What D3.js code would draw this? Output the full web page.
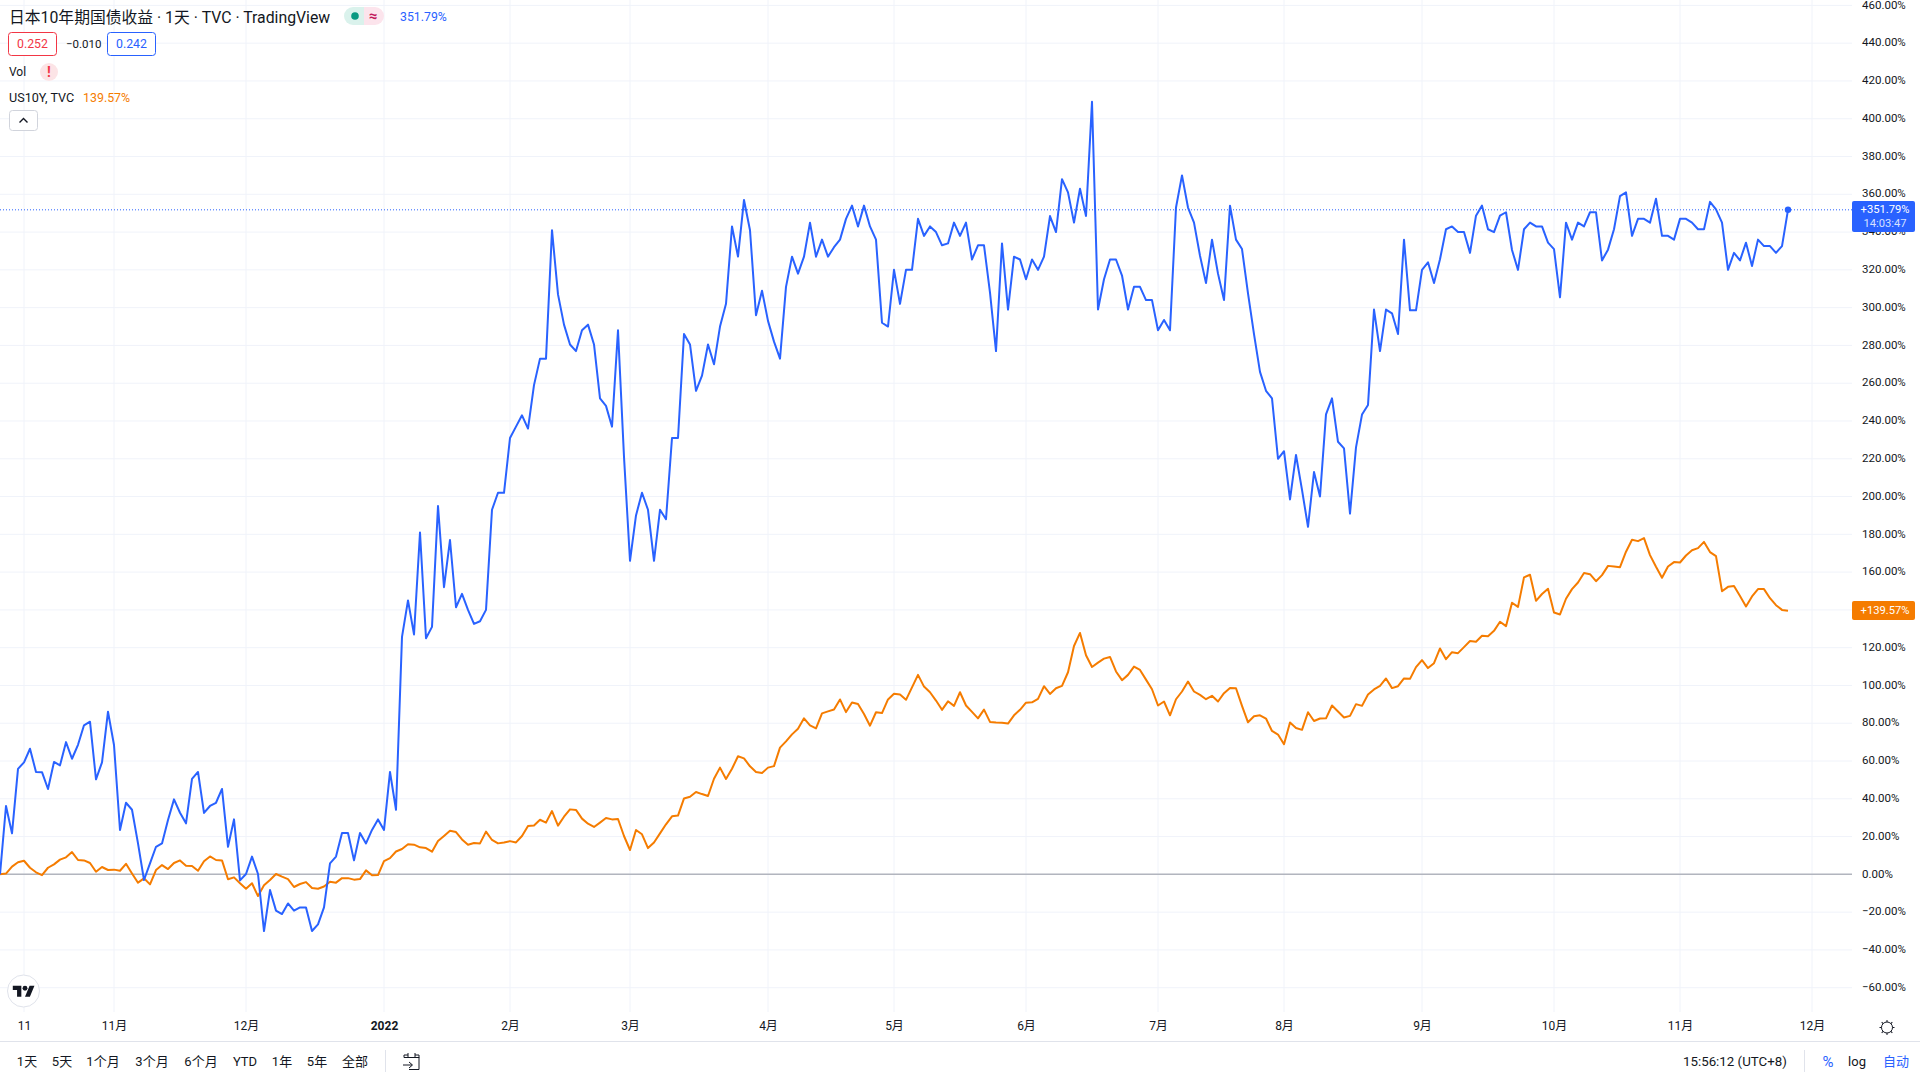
<!DOCTYPE html>
<html>
<head>
<meta charset="utf-8">
<title>日本10年期国债收益</title>
<script src="https://cdn.jsdelivr.net/npm/d3@7"></script>
<style>
    body { margin: 0; background: #fff; }
    svg { display: block; }
    text { font-family: Roboto, "Noto Sans CJK SC", sans-serif; fill: #131722; }
    .domain { display: none; }
</style>
</head>
<body>
<div id="chart"></div>
<script>
// percent change from first bar, one value per trading day
const jp10y = [
    0,36.2,21.7,55.8,59.3,66.5,54.2,54.1,45.2,59.5,
    57.7,70,61.2,68.6,78.9,80.8,50.3,59.3,86.1,68.5,
    23.5,37.9,34.2,16.4,-3,5.8,14.6,16.4,28.8,39.7,
    32.6,27,50.5,54.2,32.5,36.2,37.9,45.2,14.6,29.1,
    -3.2,0.2,9.4,0.2,-30,-8.3,-19.2,-21,-15.4,-19.2,
    -17.5,-17.5,-30,-26.5,-17.5,5.8,9.4,21.9,21.9,7.4,
    21.9,16.4,23.5,29.1,23.5,54.2,34.2,125.7,145,127,
    181,125,131,195,152,177,141.4,148.5,140,132.6,
    134,140,193,202,202,231,237,243,236,259,
    273,273,341,307,291,280.5,277,288,291,280.5,
    252,248,237,288,221,166,190,202,193,166,
    193,188,231,231,286,280.5,256,264,280.5,270,
    290,302,343,327,357,341,296,309,293,282,
    273,311,327,318,327,345,327,336,327,332,
    336,347,354,343,354,343,336,292,290,320,
    302,320,320,347,338,343,340,333,334,345,
    338,345,325.5,333,333,308,277,334,299,327,
    325.5,315,325.5,320,327,348.5,340,368,361,345,
    363,348.5,409,299,315,325.5,325.5,317,299,311,
    311,304,304,288,293.5,288,353,370,353,345,
    327.5,313,336,318,304,354,336,331,307.6,286,
    266,256,252,220,224,198.5,222,203.5,184,213,
    200,243.5,252,229,225.5,191,226,243.4,248.5,299,
    277,299,297,286,336,298.6,298.6,320,324,313,
    325.6,341.5,343,340,340,329,348.7,354,341.5,340,
    348.7,350.5,330.5,320,341.5,345,343,343,334.4,331,
    305.5,345,336,345,343,350.5,350.5,325,330.7,341.5,
    359,361,338,347,347,345,357.7,338,338,336,
    347,347,345,341.5,341.5,356,352,345,320,329,
    325,334.4,322,336,332.6,332.6,329,332.6,351.79
];

const us10y = [
    0,0.4,4.1,6.4,7.2,3.5,1.1,-0.4,3.5,5.3,
    7.8,9,11.8,7.6,7.4,6,1.4,3.9,2.3,2.5,
    1.9,5.6,0.5,-4.4,-2.1,-5.3,2.3,4.9,2.8,6,
    7.4,4.6,4.4,1.9,6.9,9.5,7.6,7.4,-2.6,-1.6,
    -4.7,-7.6,-4.7,-11.5,-5.8,-3,0.2,-1.2,-2.5,-6.7,
    -5.1,-4.1,-7.2,-7.6,-6.4,-3.9,-4.4,-2,-2,-2.8,
    -2.5,2.1,-0.5,-0.4,7,8.6,12.1,13.4,15.9,15.7,
    14.3,13.9,12,17.6,20.3,23.1,22.4,18.5,15.7,16.6,
    16.4,22.6,18.2,16.4,16.9,17.6,16.9,20.3,25.6,25.9,
    28.9,27.4,33.5,25.8,30.5,34.4,34.1,29.5,26.8,25.1,
    27.4,29.8,29.1,29.3,20.3,12.9,23.5,21.2,13.9,16.9,
    21.7,26.5,30.7,31.1,40.2,41.1,43.6,42.5,41.5,50.6,
    56.5,50.5,55.9,62.5,61.4,57.2,54.2,53.6,56.5,57.3,
    67.1,70.4,74.1,77.1,82.6,78.9,77.3,85.2,86.3,87.3,
    92.6,85.9,91,90.2,84.9,78.7,85.8,85.4,92.6,95.6,
    95.2,92.4,99,105.6,99.4,96.4,92,87.1,91.6,89.2,
    96.4,89.4,86,82.6,87.2,80.7,80.4,80.2,79.8,84.2,
    87.1,90.9,91.1,92.9,99.6,95.5,98.5,99.8,107,120.9,
    127.8,116,109.8,112.1,114.2,115.1,107.4,102.8,105.6,110,
    108.2,103.1,98,89.4,91.5,84.2,92.7,96.8,102.1,96.8,
    95,92.7,94.5,91.5,95.9,98.7,98.5,89.2,80.5,83.7,
    84.2,82.5,75.9,74,68.9,80.4,77.5,76.5,85.8,81.2,
    82.5,82.6,89.4,86.2,83,83.9,90.1,89.2,95.2,97.9,
    99.8,103.7,98.6,99.6,103.7,103.5,109.7,113.4,109.2,111.8,
    119.6,113.9,117.6,117.1,120.3,123.5,123.1,126.3,126.1,128.9,
    133.7,131.4,143.8,141.6,157.2,158.6,144.8,148.4,151.2,138.6,
    137.6,145.9,151,154.5,159.5,158.9,155.2,158.4,163.3,163,
    162.6,170.8,177.1,176.4,178,169,162.8,157,163,165.3,
    165.1,168.8,171.6,172.7,176,170.6,168.5,149.9,152.2,152.6,
    147.3,141.8,147.1,151,151,146.2,142.5,140,139.57
];

const yTicks = [-60,-40,-20,0,20,40,60,80,100,120,140,160,180,200,220,240,260,280,300,320,340,360,380,400,420,440,460];
const timeIndex = [4,19,41,64,85,105,128,149,171,193,214,237,259,280,302];
const timeLabels = ["11","11月","12月","2022","2月","3月","4月","5月","6月","7月","8月","9月","10月","11月","12月"];
const rangeLabels = ["1天","5天","1个月","3个月","6个月","YTD","1年","5年","全部"];
const rangeCenters = [27,62,103,152,201,245,282,317,355];

const blue = "#2962FF";
const orange = "#F57C00";
const grid = "#F0F3FA";
const ink = "#131722";

const width = 1920, height = 1080;
const paneRight = 1852, paneBottom = 1012;

const svg = d3.select("#chart").append("svg").attr("width", width).attr("height", height);

const x = d3.scaleLinear().domain([0, jp10y.length - 1]).range([0, 1788]);
const y = d3.scaleLinear().domain([-60, 460]).range([987.7, 5.4]);

// grid
svg.append("g").selectAll("line").data(yTicks).join("line")
    .attr("x1", 0).attr("x2", paneRight)
    .attr("y1", d => y(d)).attr("y2", d => y(d))
    .attr("stroke", grid);
svg.append("g").selectAll("line").data(timeIndex).join("line")
    .attr("x1", d => x(d)).attr("x2", d => x(d))
    .attr("y1", 0).attr("y2", paneBottom)
    .attr("stroke", grid);

// zero line
svg.append("line")
    .attr("x1", 0).attr("x2", paneRight)
    .attr("y1", y(0)).attr("y2", y(0))
    .attr("stroke", "#B2B5BE").attr("stroke-width", 1.5);

// current value dotted line
svg.append("line")
    .attr("x1", 0).attr("x2", paneRight)
    .attr("y1", y(351.79)).attr("y2", y(351.79))
    .attr("stroke", blue).attr("stroke-dasharray", "1 2");

const line = d3.line().x((d, i) => x(i)).y(d => y(d));

svg.append("path").datum(us10y).attr("d", line)
    .attr("fill", "none").attr("stroke", orange).attr("stroke-width", 2).attr("stroke-linejoin", "round");
svg.append("path").datum(jp10y).attr("d", line)
    .attr("fill", "none").attr("stroke", blue).attr("stroke-width", 2).attr("stroke-linejoin", "round");
svg.append("circle")
    .attr("cx", x(jp10y.length - 1)).attr("cy", y(351.79)).attr("r", 3.2).attr("fill", blue);

// price axis
const yAxis = d3.axisRight(y)
    .tickValues(yTicks)
    .tickSize(0)
    .tickPadding(10)
    .tickFormat(d => `${d < 0 ? "−" : ""}${Math.abs(d).toFixed(2)}%`);
svg.append("g").attr("transform", `translate(${paneRight},-1)`).call(yAxis)
    .selectAll("text").style("font-size", "11.5px").style("font-family", null);

// time axis
const xAxis = d3.axisBottom(x)
    .tickValues(timeIndex)
    .tickSize(0)
    .tickPadding(9)
    .tickFormat((d, i) => timeLabels[i]);
svg.append("g").attr("transform", `translate(0,${paneBottom + 0.5})`).call(xAxis)
    .selectAll("text")
    .style("font-size", "12px")
    .style("font-family", null)
    .style("font-weight", d => d === 64 ? 700 : 400);

// last value labels
function valueLabel(top, h, fill) {
    svg.append("rect").attr("x", paneRight).attr("y", top)
        .attr("width", 63).attr("height", h).attr("rx", 2).attr("fill", fill);
}
function put(str, px, py, size, fill, anchor, weight) {
    return svg.append("text").attr("x", px).attr("y", py)
        .attr("dominant-baseline", "central")
        .attr("text-anchor", anchor || "start")
        .style("font-size", size + "px")
        .style("fill", fill || ink)
        .style("font-weight", weight || 400)
        .text(str);
}
valueLabel(201, 31, blue);
put("+351.79%", 1885, 209.5, 11.2, "#fff", "middle");
put("14:03:47", 1885, 223.5, 11.2, "#D6E0FF", "middle");
valueLabel(601, 19, orange);
put("+139.57%", 1885, 610.5, 11.2, "#fff", "middle");

// legend
put("日本10年期国债收益 · 1天 · TVC · TradingView", 9, 17, 15.8);
svg.append("path").attr("d", "M353 7H364V25H353A9 9 0 0 1 353 7Z").attr("fill", "#DAF2EC");
svg.append("path").attr("d", "M364 7H375A9 9 0 0 1 375 25H364Z").attr("fill", "#FCE4EC");
svg.append("circle").attr("cx", 355).attr("cy", 16).attr("r", 3.8).attr("fill", "#089981");
put("≈", 373, 16, 15, "#C2185B", "middle", 700);
put("351.79%", 400, 17, 12.3, blue);

svg.append("rect").attr("x", 8.5).attr("y", 32.5).attr("width", 48).attr("height", 23).attr("rx", 3)
    .attr("fill", "#fff").attr("stroke", "#F23645");
put("0.252", 32.5, 44, 12.3, "#F23645", "middle");
put("−0.010", 66, 44, 11.5);
svg.append("rect").attr("x", 107.5).attr("y", 32.5).attr("width", 48).attr("height", 23).attr("rx", 3)
    .attr("fill", "#fff").attr("stroke", blue);
put("0.242", 131.5, 44, 12.3, blue, "middle");

put("Vol", 9, 72, 12);
svg.append("circle").attr("cx", 49).attr("cy", 72).attr("r", 9).attr("fill", "#FCE4E6");
put("!", 49, 72, 14, "#F23645", "middle", 700);

put("US10Y, TVC", 9, 97, 12.6);
put("139.57%", 83, 97, 12.4, orange);

svg.append("rect").attr("x", 9.5).attr("y", 110.5).attr("width", 28).attr("height", 20).attr("rx", 3)
    .attr("fill", "#fff").attr("stroke", "#D1D4DC");
svg.append("path").attr("d", "M19.5 122.5L23.5 118.5L27.5 122.5")
    .attr("fill", "none").attr("stroke", ink).attr("stroke-width", 1.4);

// tradingview badge
svg.append("circle").attr("cx", 23.5).attr("cy", 991).attr("r", 16)
    .attr("fill", "#fff").attr("stroke", "#E0E3EB");
const logo = svg.append("g").attr("transform", "translate(12.8,983.4) scale(0.61)").attr("fill", ink);
logo.append("path").attr("d", "M14 22H7V11H0V4h14v18zM28 22h-8l7.5-18h8L28 22z");
logo.append("circle").attr("cx", 20).attr("cy", 8).attr("r", 4);

// bottom bar
svg.append("line").attr("x1", 0).attr("x2", width).attr("y1", 1041.5).attr("y2", 1041.5).attr("stroke", "#E0E3EB");
svg.append("line").attr("x1", 385.5).attr("x2", 385.5).attr("y1", 1050).attr("y2", 1072).attr("stroke", "#E0E3EB");
svg.append("line").attr("x1", 1804.5).attr("x2", 1804.5).attr("y1", 1050).attr("y2", 1072).attr("stroke", "#E0E3EB");

svg.append("g").selectAll("text").data(rangeLabels).join("text")
    .attr("x", (d, i) => rangeCenters[i]).attr("y", 1061.5)
    .attr("text-anchor", "middle").attr("dominant-baseline", "central")
    .style("font-size", "13px")
    .text(d => d);

// go to date icon
svg.append("path")
    .attr("d", "M404 1057.5H419V1069.5H409M404 1057.5V1055H408M415 1055H419V1058M408 1053V1057M415 1053V1057M403 1065H412M409 1062L412.5 1065L409 1068")
    .attr("fill", "none").attr("stroke", ink);

put("15:56:12 (UTC+8)", 1683, 1061.5, 13.3);
put("%", 1828, 1061.5, 15, blue, "middle");
put("log", 1857, 1061.5, 13, ink, "middle");
put("自动", 1896, 1061.5, 13, blue, "middle");

// settings icon
const gear = svg.append("g").attr("transform", "translate(1887,1027.5)");
gear.append("circle").attr("r", 5.5).attr("fill", "#fff").attr("stroke", ink);
gear.selectAll("line").data([0, 45, 90, 135, 180, 225, 270, 315]).join("line")
    .attr("y1", -5.5).attr("y2", -7.5)
    .attr("transform", d => `rotate(${d})`)
    .attr("stroke", ink);
</script>
</body>
</html>
